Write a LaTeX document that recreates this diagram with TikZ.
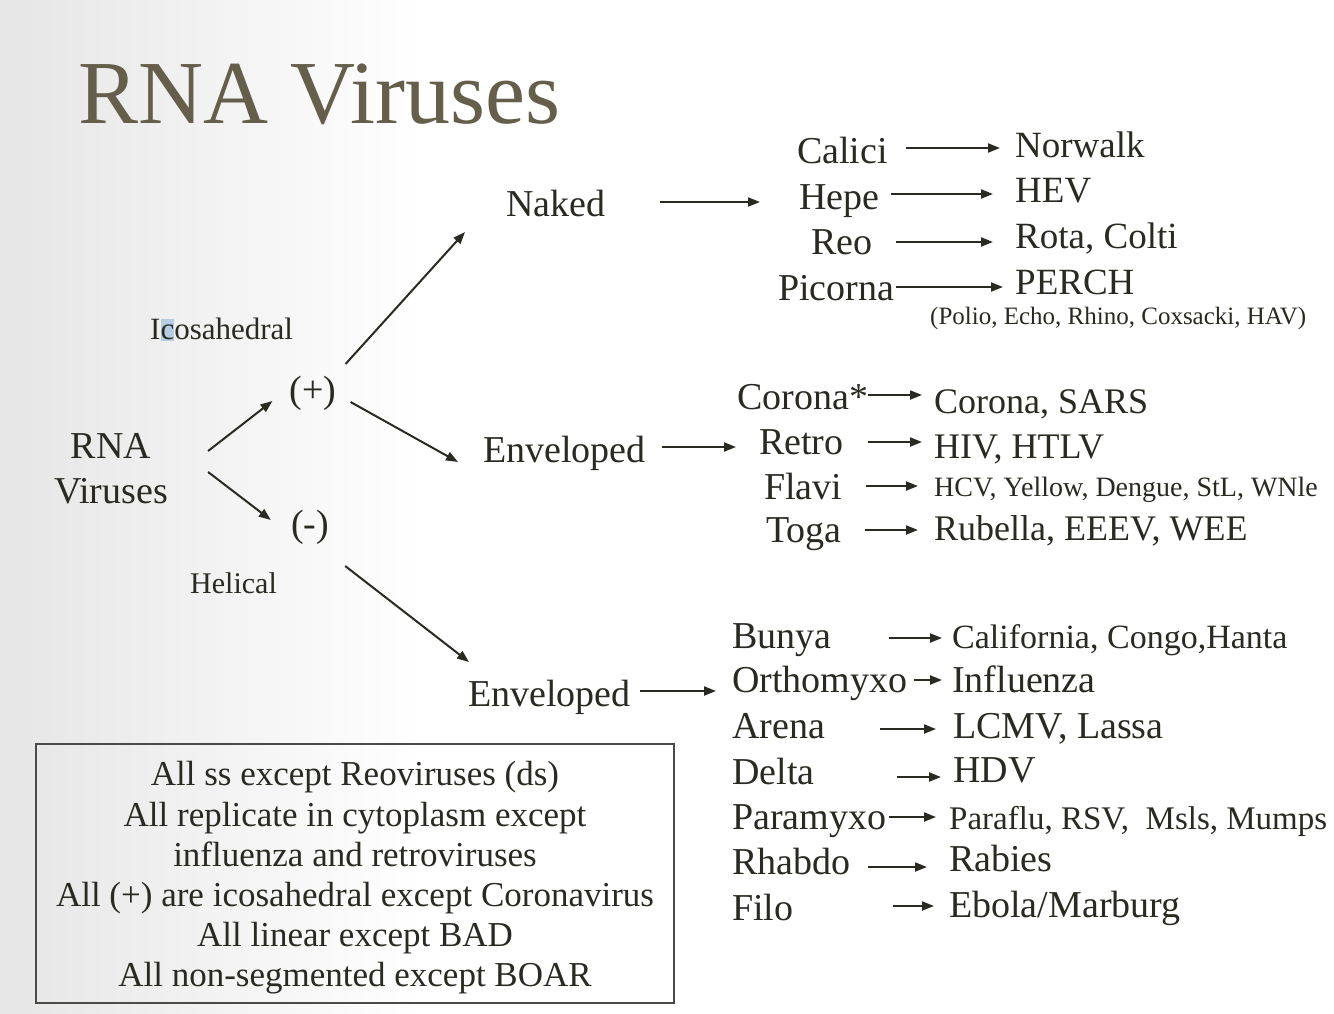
\documentclass[tikz,border=0pt]{standalone}
\usepackage{fontspec}
\setmainfont{Liberation Serif}
\usetikzlibrary{arrows.meta,calc}
\definecolor{ink}{HTML}{2A2A22}
\definecolor{titlec}{HTML}{655E4A}
\definecolor{boxc}{HTML}{4A4A46}
\definecolor{selc}{HTML}{B4CDE2}
\tikzset{
  txt/.style={anchor=base west, inner sep=0pt, text=ink},
  fs/.style={font=\fontsize{#1}{#1}\selectfont},
  arr/.style={draw=ink, line width=2pt, -{Triangle[length=12pt,width=9pt]}},
}
\begin{document}
\begin{tikzpicture}[x=1pt,y=-1pt]
\useasboundingbox (0,0) rectangle (1334,1014);
\fill[white] (0,0) rectangle (1334,1014);
\shade[left color=black!10, right color=white] (0,0) rectangle (420,1014);

% title
\node[txt, text=titlec, fs=90] (title) at (78,124) {RNA Viruses};

% left part
\node[anchor=center, inner sep=0pt, text=ink, align=center, font=\fontsize{38}{45}\selectfont] (rna) at (111,469) {RNA\\Viruses};
\node[anchor=center, inner sep=0pt, text=ink, fs=38] (plus) at (313,393) {(+)};
\node[anchor=center, inner sep=0pt, text=ink, fs=38] (minus) at (310,527) {(-)};
\fill[selc] (161,319) rectangle (174,341);
\node[txt, fs=31] (ico) at (150,339) {Icosahedral};
\node[txt, fs=30] (hel) at (190,593) {Helical};

\node[txt, fs=38] (naked) at (506,216) {Naked};
\node[txt, fs=38] (env1) at (483,462) {Enveloped};
\node[txt, fs=38] (env2) at (468,706) {Enveloped};
\coordinate (nakedend) at (760,202);
\coordinate (env2end) at (716,691);

% naked group
\node[txt, fs=38] (calici) at (797,164) {Calici};
\node[txt, fs=38] (hepe) at (799,210) {Hepe};
\node[txt, fs=38] (reo) at (811,254) {Reo};
\node[txt, fs=38] (picorna) at (778,300) {Picorna};
\node[txt, fs=37] (norwalk) at (1015,158) {Norwalk};
\node[txt, fs=37] (hev) at (1015,203) {HEV};
\node[txt, fs=37] (rota) at (1015,248) {Rota, Colti};
\node[txt, fs=37] (perch) at (1015,294) {PERCH};
\node[txt, fs=25] (perchsub) at (930,324) {(Polio, Echo, Rhino, Coxsacki, HAV)};

% enveloped (+) group
\node[txt, fs=38] (corona) at (737,409) {Corona*};
\node[txt, fs=38] (retro) at (759,454) {Retro};
\node[txt, fs=38] (flavi) at (764,499) {Flavi};
\node[txt, fs=38] (toga) at (766,542) {Toga};
\node[txt, fs=36] (sars) at (934,413) {Corona, SARS};
\node[txt, fs=36] (hiv) at (934,458) {HIV, HTLV};
\node[txt, fs=28] (hcv) at (934,496) {HCV, Yellow, Dengue, StL, WNle};
\node[txt, fs=36] (rubella) at (934,540) {Rubella, EEEV, WEE};

% enveloped (-) group
\node[txt, fs=38] (bunya) at (732,648) {Bunya};
\node[txt, fs=38] (ortho) at (732,692) {Orthomyxo};
\node[txt, fs=38] (arena) at (732,738) {Arena};
\node[txt, fs=38] (delta) at (732,784) {Delta};
\node[txt, fs=38] (para) at (732,829) {Paramyxo};
\node[txt, fs=38] (rhabdo) at (732,874) {Rhabdo};
\node[txt, fs=38] (filo) at (732,920) {Filo};
\node[txt, fs=34] (calif) at (952,648) {California, Congo,Hanta};
\node[txt, fs=38] (influ) at (952,692) {Influenza};
\node[txt, fs=38] (lcmv) at (953,738) {LCMV, Lassa};
\node[txt, fs=38] (hdv) at (953,782) {HDV};
\node[txt, fs=33] (paraflu) at (949,829) {Paraflu, RSV,\ \ Msls, Mumps};
\node[txt, fs=38] (rabies) at (949,871) {Rabies};
\node[txt, fs=38] (ebola) at (949,917) {Ebola/Marburg};

% note box
\node[text=ink, align=center, inner sep=0pt, font=\fontsize{35}{40.2}\selectfont]
  (notes) at (355,878) {All ss except Reoviruses (ds)\\All replicate in cytoplasm except\\influenza and retroviruses\\All (+) are icosahedral except Coronavirus\\All linear except BAD\\All non-segmented except BOAR};
\draw[boxc, line width=1.5pt] ([shift={(-319,-134)}]notes.center) rectangle ([shift={(319,125)}]notes.center);

% connectors
\draw[arr] ([shift={(40,-18)}]rna.east) -- ([shift={(-17,8)}]plus.west);
\draw[arr] ([shift={(40,3)}]rna.east) -- ([shift={(-20,-7)}]minus.west);
\draw[arr] ([shift={(9,-29)}]plus.east) -- ([shift={(-41,16)}]naked.base west);
\draw[arr] ([shift={(14,9)}]plus.east) -- ([shift={(-25,0)}]env1.base west);
\draw[arr] ([shift={(16,39)}]minus.east) -- ([shift={(1,-44)}]env2.base west);
\draw[arr] ([shift={(54,-14)}]naked.base east) -- (nakedend);
\draw[arr] ([shift={(9,-15)}]env2.base east) -- (env2end);
\draw[arr] ([shift={(16,-15)}]env1.base east) -- ([shift={(-23,-7)}]retro.base west);

\draw[arr] ([shift={(18,-16)}]calici.base east) -- ([shift={(-15,-10)}]norwalk.base west);
\draw[arr] ([shift={(11,-16)}]hepe.base east) -- ([shift={(-22,-9)}]hev.base west);
\draw[arr] ([shift={(23,-12)}]reo.base east) -- ([shift={(-22,-6)}]rota.base west);
\draw[arr] ([shift={(2,-13)}]picorna.base east) -- ([shift={(-12,-7)}]perch.base west);

\draw[arr] ([shift={(0,-14)}]corona.base east) -- ([shift={(-12,-18)}]sars.base west);
\draw[arr] ([shift={(24,-12)}]retro.base east) -- ([shift={(-12,-16)}]hiv.base west);
\draw[arr] ([shift={(23,-13)}]flavi.base east) -- ([shift={(-16,-10)}]hcv.base west);
\draw[arr] ([shift={(23,-12)}]toga.base east) -- ([shift={(-16,-10)}]rubella.base west);

\draw[arr] ([shift={(57,-10)}]bunya.base east) -- ([shift={(-10,-10)}]calif.base west);
\draw[arr] ([shift={(6,-12)}]ortho.base east) -- ([shift={(-10,-12)}]influ.base west);
\draw[arr] ([shift={(55,-9)}]arena.base east) -- ([shift={(-17,-9)}]lcmv.base west);
\draw[arr] ([shift={(82,-7)}]delta.base east) -- ([shift={(-12,-5)}]hdv.base west);
\draw[arr] ([shift={(3,-12)}]para.base east) -- ([shift={(-13,-12)}]paraflu.base west);
\draw[arr] ([shift={(17,-7)}]rhabdo.base east) -- ([shift={(-22,-4)}]rabies.base west);
\draw[arr] ([shift={(99,-14)}]filo.base east) -- ([shift={(-15,-11)}]ebola.base west);
\end{tikzpicture}
\end{document}
